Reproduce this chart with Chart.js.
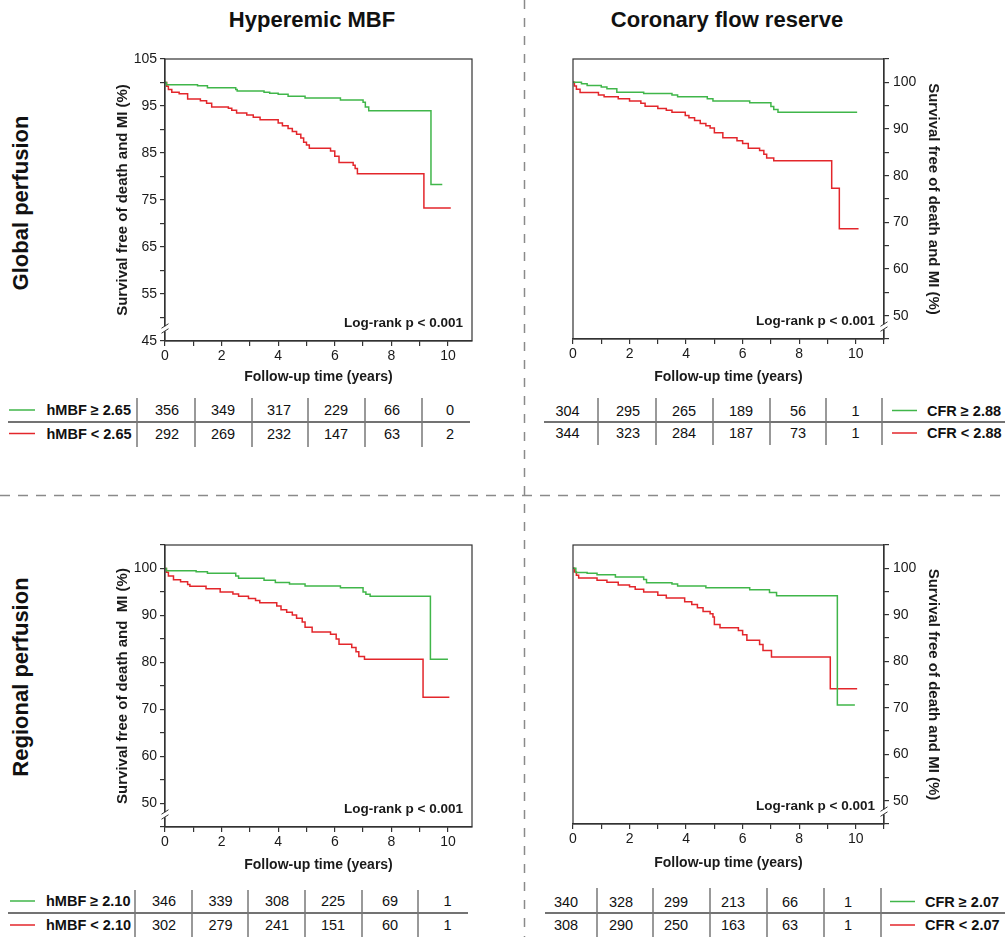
<!DOCTYPE html>
<html>
<head>
<meta charset="utf-8">
<script src="https://cdn.jsdelivr.net/npm/chart.js@4.4.1/dist/chart.umd.min.js"></script>
<style>
  html, body { margin: 0; padding: 0; background: #fff; }
  body { width: 1008px; height: 937px; position: relative; overflow: hidden;
         font-family: "Liberation Sans", Arial, Helvetica, sans-serif; color: #111; }
  canvas.km { position: absolute; }
  .t { position: absolute; white-space: pre; line-height: 1; }
  .c { transform: translate(-50%, -50%); }
  .l { transform: translate(0, -50%); }
  .head { font-size: 22px; font-weight: bold; }
  .row { font-size: 22px; font-weight: bold; transform: translate(-50%, -50%) rotate(-90deg); }
  .num { font-size: 14.5px; }
  .lab { font-size: 14.5px; font-weight: bold; }
  svg#deco { position: absolute; left: 0; top: 0; }
</style>
</head>
<body>
<svg id="deco" width="1008" height="937"></svg>
<canvas class="km" id="p1" width="400" height="350" style="left:100px;top:45px"></canvas>
<canvas class="km" id="p2" width="488" height="350" style="left:520px;top:45px"></canvas>
<canvas class="km" id="p3" width="400" height="350" style="left:100px;top:530px"></canvas>
<canvas class="km" id="p4" width="488" height="350" style="left:520px;top:530px"></canvas>

<script>
// ---- Kaplan-Meier estimates: event times (years) and survival (%) ----
// Global perfusion, hyperemic MBF
const gMbfHiT = [0, 0.05, 1.15, 1.5, 2.5, 2.55, 3.5, 3.7, 4.0, 4.35, 4.95, 6.2, 7.0, 7.08, 7.2, 9.4, 9.8];
const gMbfHiS = [100, 99.5, 99.3, 98.9, 98.5, 98.2, 97.9, 97.7, 97.5, 97.1, 96.7, 96.3, 95.8, 94.8, 94.0, 78.3, 78.3];
const gMbfLoT = [0, 0.06, 0.12, 0.24, 0.5, 0.8, 1.25, 1.47, 1.65, 2.24, 2.36, 2.53, 2.89, 3.12, 3.36, 4.0, 4.15, 4.35, 4.5, 4.65, 4.8, 4.9, 5.0, 5.1, 5.85, 6.0, 6.15, 6.65, 6.72, 6.8, 9.15, 10.1];
const gMbfLoS = [100, 99.2, 98.5, 97.9, 97.6, 96.5, 96.1, 95.6, 94.8, 94.5, 94.1, 93.5, 93.1, 92.6, 92.1, 91.4, 90.8, 90.2, 89.6, 89.0, 88.2, 87.3, 86.7, 86.0, 85.4, 84.3, 83.0, 82.4, 81.7, 80.6, 73.3, 73.3];

// Global perfusion, coronary flow reserve
const gCfrHiT = [0, 0.3, 0.5, 1.0, 1.2, 1.55, 2.5, 3.5, 3.7, 4.75, 4.95, 6.25, 7.0, 7.1, 7.25, 10.05];
const gCfrHiS = [100, 99.7, 99.3, 99.0, 98.6, 97.9, 97.6, 97.3, 96.9, 96.5, 96.0, 95.6, 94.8, 94.2, 93.6, 93.6];
const gCfrLoT = [0, 0.05, 0.12, 0.25, 0.9, 1.1, 1.6, 2.0, 2.4, 2.55, 3.0, 3.3, 3.5, 3.97, 4.1, 4.3, 4.5, 4.7, 4.85, 5.0, 5.3, 5.8, 6.0, 6.2, 6.6, 6.75, 6.85, 7.1, 9.15, 9.42, 10.1];
const gCfrLoS = [100, 99.2, 98.5, 97.8, 97.3, 96.9, 96.5, 96.0, 95.5, 94.9, 94.4, 94.0, 93.6, 92.9, 92.4, 91.8, 91.2, 90.7, 90.2, 89.2, 88.1, 87.5, 86.9, 85.9, 85.4, 84.6, 83.8, 83.2, 77.3, 68.6, 68.6];

// Regional perfusion, hyperemic MBF
const rMbfHiT = [0, 0.05, 1.1, 1.5, 2.5, 2.6, 3.5, 3.9, 4.4, 4.95, 6.2, 7.0, 7.1, 7.25, 9.38, 10.0];
const rMbfHiS = [100, 99.5, 99.3, 99.0, 98.4, 97.9, 97.5, 97.0, 96.7, 96.3, 95.9, 95.0, 94.5, 94.1, 80.7, 80.7];
const rMbfLoT = [0, 0.05, 0.12, 0.3, 0.55, 0.8, 0.88, 1.45, 1.95, 2.4, 2.6, 2.95, 3.2, 3.35, 3.95, 4.1, 4.3, 4.5, 4.65, 4.85, 4.95, 5.2, 5.85, 6.05, 6.15, 6.6, 6.75, 6.85, 7.05, 9.12, 10.05];
const rMbfLoS = [100, 99.2, 98.4, 97.6, 97.2, 96.6, 96.2, 95.7, 95.0, 94.6, 94.1, 93.6, 93.2, 92.7, 92.0, 91.2, 90.7, 90.1, 89.4, 88.6, 87.5, 86.5, 86.0, 85.0, 83.9, 83.2, 82.3, 81.3, 80.7, 72.6, 72.6];

// Regional perfusion, coronary flow reserve
const rCfrHiT = [0, 0.1, 0.5, 0.85, 1.5, 2.5, 2.6, 3.5, 3.7, 4.7, 6.25, 6.95, 7.2, 9.35, 9.97];
const rCfrHiS = [100, 99.1, 98.9, 98.6, 98.1, 97.6, 96.9, 96.6, 96.2, 95.8, 95.4, 94.8, 94.1, 70.6, 70.6];
const rCfrLoT = [0, 0.05, 0.12, 0.2, 0.85, 1.2, 1.6, 2.0, 2.2, 2.5, 3.0, 3.3, 3.95, 4.2, 4.4, 4.6, 4.85, 4.95, 5.0, 5.2, 5.85, 6.0, 6.15, 6.6, 6.72, 7.02, 9.1, 10.05];
const rCfrLoS = [100, 99.2, 98.5, 97.9, 97.4, 97.0, 96.4, 96.0, 95.5, 94.9, 94.2, 93.6, 92.8, 92.2, 91.5, 90.7, 90.2, 89.5, 87.9, 87.2, 86.6, 85.7, 84.5, 83.6, 82.3, 80.9, 74.1, 74.1];

// ---- Numbers at risk at 0, 2, 4, 6, 8, 10 years ----
const gMbfHiRisk = [356, 349, 317, 229, 66, 0];
const gMbfLoRisk = [292, 269, 232, 147, 63, 2];
const gCfrHiRisk = [304, 295, 265, 189, 56, 1];
const gCfrLoRisk = [344, 323, 284, 187, 73, 1];
const rMbfHiRisk = [346, 339, 308, 225, 69, 1];
const rMbfLoRisk = [302, 279, 241, 151, 60, 1];
const rCfrHiRisk = [340, 328, 299, 213, 66, 1];
const rCfrLoRisk = [308, 290, 250, 163, 63, 1];

// ---- Group labels and headings ----
const gMbfGroups = ['hMBF \u2265 2.65', 'hMBF < 2.65'];
const gCfrGroups = ['CFR \u2265 2.88', 'CFR < 2.88'];
const rMbfGroups = ['hMBF \u2265 2.10', 'hMBF < 2.10'];
const rCfrGroups = ['CFR \u2265 2.07', 'CFR < 2.07'];
const columnTitles = ['Hyperemic MBF', 'Coronary flow reserve'];
const rowTitles = ['Global perfusion', 'Regional perfusion'];
const xAxisTitle = 'Follow-up time (years)';
const pValueText = 'Log-rank p < 0.001';

const GREEN = '#40b64a';
const RED = '#e3262b';
const INK = '#1a1a1a';
const AXIS = '#333';
const FONT = '"Liberation Sans", Arial, Helvetica, sans-serif';

Chart.defaults.font.family = FONT;
Chart.defaults.color = INK;

function pts(t, s) { return t.map((v, i) => ({ x: v, y: s[i] })); }

// Frame, p-value annotation and the y-axis break symbol
const kmDecor = {
  id: 'kmDecor',
  afterDraw(chart, args, opts) {
    const { ctx, chartArea: a } = chart;
    const ys = chart.scales.y;
    ctx.save();
    ctx.strokeStyle = AXIS;
    ctx.lineWidth = 1.2;
    ctx.strokeRect(a.left, a.top, a.right - a.left, a.bottom - a.top);

    ctx.fillStyle = INK;
    ctx.font = 'bold 13.5px ' + FONT;
    ctx.textAlign = 'right';
    ctx.textBaseline = 'middle';
    ctx.fillText(pValueText, a.right - 9, a.bottom - 17.5);

    const bx = opts.side === 'right' ? a.right : a.left;
    const by = ys.getPixelForValue(47.4);
    ctx.fillStyle = '#fff';
    ctx.fillRect(bx - 1.5, by - 3.5, 3, 5);
    ctx.strokeStyle = AXIS;
    ctx.lineWidth = 1;
    ctx.beginPath();
    ctx.moveTo(bx - 3.5, by - 1.5); ctx.lineTo(bx + 3.5, by - 6);
    ctx.moveTo(bx - 3.5, by + 3.5); ctx.lineTo(bx + 3.5, by - 1);
    ctx.stroke();
    ctx.restore();
  }
};

function makeKM(id, cfg) {
  const side = cfg.side;
  const labelled = cfg.labelled;
  return new Chart(document.getElementById(id), {
    type: 'line',
    data: {
      datasets: [
        { data: pts(cfg.hiT, cfg.hiS), borderColor: GREEN, borderWidth: 1.5, stepped: 'before', pointRadius: 0, fill: false },
        { data: pts(cfg.loT, cfg.loS), borderColor: RED, borderWidth: 1.5, stepped: 'before', pointRadius: 0, fill: false }
      ]
    },
    options: {
      responsive: false,
      animation: false,
      devicePixelRatio: 1,
      layout: { padding: cfg.padding },
      plugins: { legend: { display: false }, tooltip: { enabled: false }, kmDecor: { side } },
      scales: {
        x: {
          type: 'linear', min: 0, max: cfg.xMax,
          afterFit: s => { s.height = cfg.xH; },
          ticks: { stepSize: 1, autoSkip: false, includeBounds: false, maxRotation: 0,
                   padding: 2, font: { size: 14 }, color: INK,
                   callback: v => (v % 2 === 0 && v <= 10) ? String(v) : '' },
          grid: { drawOnChartArea: false, drawTicks: true, tickLength: 5, color: AXIS, lineWidth: 1.2 },
          border: { display: true, color: AXIS, width: 1.2 },
          title: { display: true, text: xAxisTitle, font: { size: 14, weight: 'bold' }, color: INK,
                   padding: { top: 0, bottom: cfg.xTitlePad } }
        },
        y: {
          type: 'linear', min: 45, max: 105, position: side,
          afterFit: s => { s.width = cfg.yW; },
          ticks: { stepSize: 5, autoSkip: false, includeBounds: false,
                   padding: side === 'right' ? 4 : 3, font: { size: 14 }, color: INK,
                   callback: v => labelled(v) ? String(v) : '' },
          grid: { drawOnChartArea: false, drawTicks: true, tickLength: 5, color: AXIS, lineWidth: 1.2 },
          border: { display: true, color: AXIS, width: 1.2 },
          title: { display: true, text: cfg.yTitle, font: { size: 15, weight: 'bold' }, color: INK,
                   padding: { top: cfg.yTitlePad, bottom: 0 } }
        }
      }
    },
    plugins: [kmDecor]
  });
}

const oddTens = v => (v - 45) % 10 === 0;
const evenTens = v => v % 10 === 0 && v >= 50 && v <= 100;

makeKM('p1', { hiT: gMbfHiT, hiS: gMbfHiS, loT: gMbfLoT, loS: gMbfLoS, side: 'left', labelled: oddTens,
  xMax: 10.85, padding: { left: 0, top: 14, right: 28, bottom: 0 }, yW: 65, xH: 54, xTitlePad: 9.5,
  yTitle: 'Survival free of death and MI (%)', yTitlePad: 14 });
makeKM('p2', { hiT: gCfrHiT, hiS: gCfrHiS, loT: gCfrLoT, loS: gCfrLoS, side: 'right', labelled: evenTens,
  xMax: 11, padding: { left: 53, top: 14, right: 40, bottom: 0 }, yW: 84, xH: 56, xTitlePad: 9.5,
  yTitle: 'Survival free of death and MI (%)', yTitlePad: 26 });
makeKM('p3', { hiT: rMbfHiT, hiS: rMbfHiS, loT: rMbfLoT, loS: rMbfLoS, side: 'left', labelled: evenTens,
  xMax: 10.85, padding: { left: 0, top: 15, right: 28, bottom: 0 }, yW: 65, xH: 53, xTitlePad: 6.5,
  yTitle: 'Survival free of death and  MI (%)', yTitlePad: 14 });
makeKM('p4', { hiT: rCfrHiT, hiS: rCfrHiS, loT: rCfrLoT, loS: rCfrLoS, side: 'right', labelled: evenTens,
  xMax: 11, padding: { left: 53, top: 15, right: 40, bottom: 0 }, yW: 84, xH: 56, xTitlePad: 8.5,
  yTitle: 'Survival free of death and MI (%)', yTitlePad: 26 });

// ---- Headings, separators and numbers-at-risk tables ----
const svg = document.getElementById('deco');
function line(x1, y1, x2, y2, color, w, dash) {
  const el = document.createElementNS('http://www.w3.org/2000/svg', 'line');
  el.setAttribute('x1', x1); el.setAttribute('y1', y1);
  el.setAttribute('x2', x2); el.setAttribute('y2', y2);
  el.setAttribute('stroke', color); el.setAttribute('stroke-width', w);
  if (dash) el.setAttribute('stroke-dasharray', dash);
  svg.appendChild(el);
}
function text(str, x, y, cls) {
  const d = document.createElement('div');
  d.className = 't ' + cls;
  d.textContent = str;
  d.style.left = x + 'px';
  d.style.top = y + 'px';
  document.body.appendChild(d);
}

text(columnTitles[0], 312, 20, 'head c');
text(columnTitles[1], 727, 20, 'head c');
text(rowTitles[0], 21, 203, 'row');
text(rowTitles[1], 21, 677, 'row');

line(524.5, 0, 524.5, 937, '#8a8a8a', 1.5, '9 9');
line(0, 495.5, 1008, 495.5, '#8a8a8a', 1.5, '10 8');

function riskTable(t) {
  line(t.hx0, t.hy, t.hx1, t.hy, '#444', 1.3);
  t.sepX.forEach(x => line(x, t.sy0, x, t.sy1, '#777', 1.5));
  const risks = [t.hi, t.lo];
  const colors = [GREEN, RED];
  t.rowY.forEach((y, r) => {
    risks[r].forEach((n, i) => text(String(n), t.numX[i], y, 'num c'));
    line(t.legX0, y, t.legX1, y, colors[r], 1.5);
    text(t.groups[r], t.labX, y, 'lab l');
  });
}

riskTable({ hi: gMbfHiRisk, lo: gMbfLoRisk, groups: gMbfGroups,
  numX: [167, 223, 279, 336, 392, 450], sepX: [137, 195, 252, 308, 365, 422],
  rowY: [410, 433.5], hy: 422, hx0: 8, hx1: 470, sy0: 398, sy1: 447,
  legX0: 9, legX1: 35, labX: 46.5 });
riskTable({ hi: gCfrHiRisk, lo: gCfrLoRisk, groups: gCfrGroups,
  numX: [567.5, 628, 684, 741, 798, 855.5], sepX: [598, 656, 713, 770, 826, 882],
  rowY: [410.5, 433], hy: 422, hx0: 544, hx1: 1005, sy0: 398, sy1: 445,
  legX0: 892, legX1: 917, labX: 927 });
riskTable({ hi: rMbfHiRisk, lo: rMbfLoRisk, groups: rMbfGroups,
  numX: [164, 220.5, 277, 333, 390, 447.5], sepX: [135, 192, 248, 305, 362, 418],
  rowY: [901, 925], hy: 913, hx0: 8, hx1: 468, sy0: 890, sy1: 937,
  legX0: 10, legX1: 35, labX: 46 });
riskTable({ hi: rCfrHiRisk, lo: rCfrLoRisk, groups: rCfrGroups,
  numX: [566, 621, 676, 733, 790, 848], sepX: [597, 653, 710, 767, 824, 881],
  rowY: [901.5, 925], hy: 913, hx0: 545, hx1: 1005, sy0: 888, sy1: 937,
  legX0: 890, legX1: 915, labX: 925 });
</script>
</body>
</html>
